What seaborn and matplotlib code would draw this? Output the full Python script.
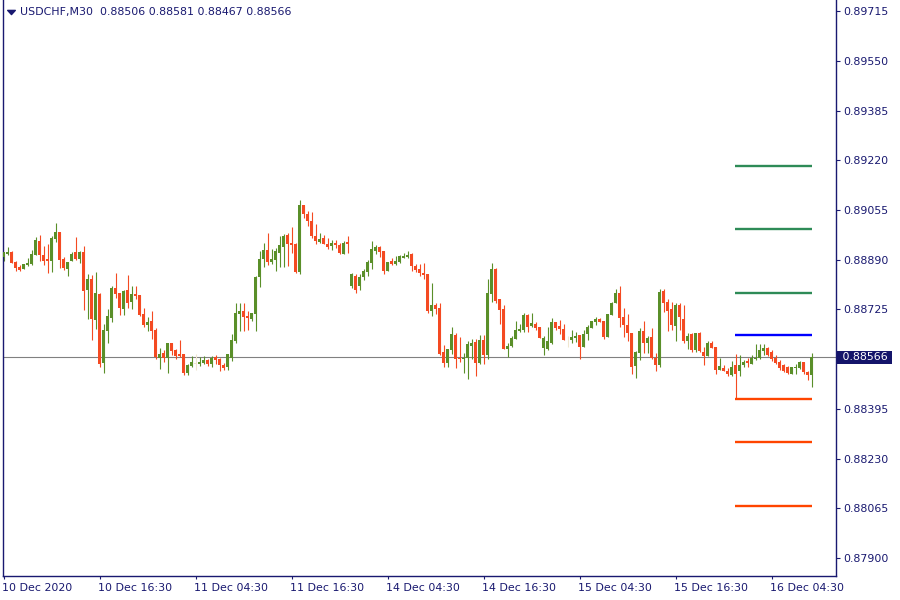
import numpy as np
import pandas as pd
import matplotlib
matplotlib.use("Agg")
import matplotlib.pyplot as plt
import matplotlib.transforms as mtransforms
from matplotlib.path import Path
import seaborn as sns

# ---------------- data ----------------
symbol = "USDCHF,M30"

opens = [
    0.88900, 0.88909, 0.88916, 0.88883, 0.88866, 0.88860, 0.88873, 0.88876, 0.88906, 0.88953,
    0.88906, 0.88893, 0.88884, 0.88960, 0.88982, 0.88893, 0.88860, 0.88884, 0.88916, 0.88893,
    0.88916, 0.88790, 0.88826, 0.88691, 0.88776, 0.88547, 0.88654, 0.88697, 0.88796, 0.88779,
    0.88727, 0.88789, 0.88749, 0.88776, 0.88773, 0.88709, 0.88673, 0.88686, 0.88656, 0.88565,
    0.88580, 0.88565, 0.88613, 0.88590, 0.88576, 0.88576, 0.88514, 0.88537, 0.88545, 0.88543,
    0.88546, 0.88556, 0.88545, 0.88566, 0.88560, 0.88540, 0.88534, 0.88565, 0.88620, 0.88709,
    0.88719, 0.88703, 0.88693, 0.88709, 0.88833, 0.88893, 0.88923, 0.88883, 0.88889, 0.88911,
    0.88933, 0.88972, 0.88947, 0.88942, 0.88850, 0.89072, 0.89042, 0.89019, 0.88969, 0.88949,
    0.88961, 0.88942, 0.88937, 0.88947, 0.88939, 0.88910, 0.88950, 0.88802, 0.88836, 0.88803,
    0.88831, 0.88850, 0.88879, 0.88919, 0.88932, 0.88919, 0.88853, 0.88886, 0.88877, 0.88882,
    0.88897, 0.88899, 0.88909, 0.88869, 0.88860, 0.88846, 0.88842, 0.88720, 0.88738, 0.88729,
    0.88583, 0.88547, 0.88590, 0.88639, 0.88564, 0.88559, 0.88563, 0.88603, 0.88617, 0.88547,
    0.88622, 0.88574, 0.88777, 0.88859, 0.88759, 0.88726, 0.88594, 0.88603, 0.88626, 0.88654,
    0.88657, 0.88706, 0.88669, 0.88676, 0.88666, 0.88597, 0.88593, 0.88614, 0.88682, 0.88669,
    0.88660, 0.88621, 0.88623, 0.88630, 0.88640, 0.88601, 0.88643, 0.88664, 0.88684, 0.88693,
    0.88686, 0.88634, 0.88708, 0.88747, 0.88779, 0.88699, 0.88673, 0.88647, 0.88536, 0.88581,
    0.88653, 0.88613, 0.88633, 0.88565, 0.88540, 0.88787, 0.88748, 0.88726, 0.88671, 0.88741,
    0.88693, 0.88620, 0.88643, 0.88590, 0.88647, 0.88583, 0.88570, 0.88612, 0.88599, 0.88525,
    0.88532, 0.88521, 0.88506, 0.88540, 0.88521, 0.88540, 0.88554, 0.88545, 0.88559, 0.88564,
    0.88587, 0.88596, 0.88583, 0.88565, 0.88550, 0.88539, 0.88534, 0.88512, 0.88531, 0.88532,
    0.88550, 0.88516, 0.88506,
]

highs = [
    0.88917, 0.88932, 0.88919, 0.88887, 0.88871, 0.88877, 0.88896, 0.88923, 0.88965, 0.88972,
    0.88936, 0.88942, 0.88967, 0.89012, 0.88982, 0.88900, 0.88883, 0.88916, 0.88966, 0.88919,
    0.88936, 0.88843, 0.88840, 0.88849, 0.88780, 0.88676, 0.88726, 0.88803, 0.88846, 0.88779,
    0.88789, 0.88839, 0.88803, 0.88803, 0.88773, 0.88729, 0.88699, 0.88719, 0.88663, 0.88596,
    0.88590, 0.88613, 0.88613, 0.88593, 0.88623, 0.88576, 0.88545, 0.88571, 0.88576, 0.88566,
    0.88570, 0.88560, 0.88570, 0.88572, 0.88562, 0.88547, 0.88576, 0.88643, 0.88746, 0.88747,
    0.88745, 0.88719, 0.88713, 0.88835, 0.88919, 0.88944, 0.88980, 0.88927, 0.88929, 0.88967,
    0.88976, 0.88980, 0.88997, 0.88947, 0.89089, 0.89072, 0.89053, 0.89049, 0.89010, 0.88980,
    0.88972, 0.88962, 0.88956, 0.88956, 0.88944, 0.88951, 0.88967, 0.88845, 0.88841, 0.88842,
    0.88858, 0.88889, 0.88952, 0.88939, 0.88937, 0.88919, 0.88882, 0.88894, 0.88902, 0.88906,
    0.88912, 0.88920, 0.88912, 0.88876, 0.88876, 0.88879, 0.88842, 0.88812, 0.88745, 0.88747,
    0.88606, 0.88595, 0.88667, 0.88645, 0.88633, 0.88579, 0.88619, 0.88626, 0.88626, 0.88639,
    0.88640, 0.88825, 0.88879, 0.88864, 0.88759, 0.88738, 0.88615, 0.88638, 0.88686, 0.88677,
    0.88712, 0.88709, 0.88712, 0.88684, 0.88666, 0.88636, 0.88667, 0.88697, 0.88682, 0.88689,
    0.88678, 0.88637, 0.88656, 0.88651, 0.88640, 0.88656, 0.88673, 0.88686, 0.88701, 0.88695,
    0.88686, 0.88710, 0.88751, 0.88792, 0.88801, 0.88728, 0.88711, 0.88647, 0.88586, 0.88663,
    0.88686, 0.88638, 0.88662, 0.88579, 0.88793, 0.88792, 0.88758, 0.88748, 0.88745, 0.88747,
    0.88741, 0.88647, 0.88647, 0.88647, 0.88651, 0.88599, 0.88619, 0.88619, 0.88599, 0.88563,
    0.88539, 0.88532, 0.88555, 0.88576, 0.88573, 0.88558, 0.88562, 0.88574, 0.88609, 0.88610,
    0.88610, 0.88599, 0.88590, 0.88572, 0.88556, 0.88543, 0.88536, 0.88534, 0.88545, 0.88554,
    0.88552, 0.88521, 0.88581,
]

lows = [
    0.88887, 0.88907, 0.88878, 0.88853, 0.88854, 0.88858, 0.88870, 0.88873, 0.88904, 0.88887,
    0.88871, 0.88847, 0.88850, 0.88949, 0.88864, 0.88856, 0.88837, 0.88884, 0.88889, 0.88880,
    0.88723, 0.88694, 0.88623, 0.88661, 0.88534, 0.88514, 0.88612, 0.88684, 0.88763, 0.88706,
    0.88706, 0.88730, 0.88727, 0.88758, 0.88703, 0.88666, 0.88654, 0.88626, 0.88561, 0.88527,
    0.88551, 0.88514, 0.88575, 0.88561, 0.88567, 0.88507, 0.88507, 0.88534, 0.88524, 0.88537,
    0.88543, 0.88536, 0.88534, 0.88543, 0.88521, 0.88523, 0.88523, 0.88553, 0.88613, 0.88654,
    0.88654, 0.88656, 0.88685, 0.88654, 0.88800, 0.88865, 0.88873, 0.88876, 0.88854, 0.88867,
    0.88867, 0.88869, 0.88911, 0.88845, 0.88841, 0.89028, 0.89002, 0.88963, 0.88942, 0.88944,
    0.88941, 0.88927, 0.88922, 0.88928, 0.88909, 0.88910, 0.88913, 0.88797, 0.88780, 0.88789,
    0.88822, 0.88836, 0.88859, 0.88910, 0.88900, 0.88843, 0.88852, 0.88871, 0.88871, 0.88880,
    0.88897, 0.88896, 0.88853, 0.88848, 0.88837, 0.88825, 0.88714, 0.88702, 0.88709, 0.88573,
    0.88534, 0.88534, 0.88576, 0.88530, 0.88550, 0.88514, 0.88494, 0.88560, 0.88504, 0.88543,
    0.88544, 0.88561, 0.88750, 0.88745, 0.88677, 0.88594, 0.88567, 0.88600, 0.88626, 0.88651,
    0.88650, 0.88650, 0.88667, 0.88658, 0.88630, 0.88574, 0.88590, 0.88609, 0.88655, 0.88644,
    0.88623, 0.88601, 0.88614, 0.88617, 0.88560, 0.88601, 0.88623, 0.88662, 0.88674, 0.88682,
    0.88628, 0.88634, 0.88706, 0.88745, 0.88667, 0.88635, 0.88621, 0.88511, 0.88497, 0.88556,
    0.88581, 0.88581, 0.88559, 0.88521, 0.88534, 0.88717, 0.88653, 0.88658, 0.88621, 0.88656,
    0.88614, 0.88592, 0.88585, 0.88583, 0.88585, 0.88542, 0.88570, 0.88597, 0.88512, 0.88525,
    0.88519, 0.88505, 0.88503, 0.88430, 0.88503, 0.88534, 0.88534, 0.88544, 0.88556, 0.88560,
    0.88573, 0.88570, 0.88554, 0.88543, 0.88525, 0.88517, 0.88512, 0.88510, 0.88512, 0.88527,
    0.88512, 0.88492, 0.88467,
]

closes = [
    0.88915, 0.88916, 0.88880, 0.88864, 0.88857, 0.88875, 0.88880, 0.88909, 0.88956, 0.88904,
    0.88886, 0.88884, 0.88962, 0.88982, 0.88890, 0.88864, 0.88883, 0.88909, 0.88893, 0.88914,
    0.88787, 0.88826, 0.88694, 0.88779, 0.88544, 0.88656, 0.88703, 0.88796, 0.88777, 0.88730,
    0.88786, 0.88747, 0.88776, 0.88769, 0.88705, 0.88673, 0.88683, 0.88654, 0.88566, 0.88576,
    0.88564, 0.88613, 0.88587, 0.88571, 0.88571, 0.88514, 0.88540, 0.88550, 0.88545, 0.88550,
    0.88556, 0.88543, 0.88564, 0.88556, 0.88540, 0.88531, 0.88576, 0.88623, 0.88713, 0.88719,
    0.88700, 0.88697, 0.88713, 0.88833, 0.88893, 0.88923, 0.88883, 0.88893, 0.88919, 0.88939,
    0.88969, 0.88942, 0.88938, 0.88850, 0.89073, 0.89040, 0.89017, 0.88969, 0.88952, 0.88959,
    0.88942, 0.88933, 0.88947, 0.88938, 0.88911, 0.88947, 0.88941, 0.88842, 0.88790, 0.88831,
    0.88852, 0.88882, 0.88926, 0.88932, 0.88916, 0.88853, 0.88882, 0.88877, 0.88887, 0.88902,
    0.88902, 0.88906, 0.88869, 0.88856, 0.88847, 0.88839, 0.88720, 0.88738, 0.88726, 0.88578,
    0.88547, 0.88593, 0.88643, 0.88560, 0.88560, 0.88564, 0.88609, 0.88615, 0.88547, 0.88622,
    0.88574, 0.88779, 0.88859, 0.88753, 0.88722, 0.88594, 0.88603, 0.88629, 0.88656, 0.88660,
    0.88706, 0.88665, 0.88679, 0.88664, 0.88630, 0.88629, 0.88619, 0.88682, 0.88664, 0.88660,
    0.88623, 0.88621, 0.88633, 0.88637, 0.88601, 0.88643, 0.88667, 0.88686, 0.88693, 0.88684,
    0.88633, 0.88710, 0.88747, 0.88779, 0.88697, 0.88673, 0.88645, 0.88534, 0.88584, 0.88653,
    0.88612, 0.88630, 0.88562, 0.88540, 0.88783, 0.88747, 0.88719, 0.88673, 0.88741, 0.88701,
    0.88620, 0.88638, 0.88590, 0.88645, 0.88587, 0.88570, 0.88612, 0.88597, 0.88523, 0.88536,
    0.88519, 0.88510, 0.88533, 0.88511, 0.88540, 0.88552, 0.88547, 0.88562, 0.88565, 0.88590,
    0.88596, 0.88573, 0.88561, 0.88547, 0.88532, 0.88521, 0.88514, 0.88534, 0.88533, 0.88550,
    0.88516, 0.88506, 0.88566,
]

time_labels = ["10 Dec 2020", "10 Dec 16:30", "11 Dec 04:30", "11 Dec 16:30",
               "14 Dec 04:30", "14 Dec 16:30", "15 Dec 04:30", "15 Dec 16:30",
               "16 Dec 04:30"]
time_label_bars = [0, 24, 48, 72, 96, 120, 144, 168, 192]

price_ticks = [0.87900, 0.88065, 0.88230, 0.88395, 0.88725, 0.88890,
               0.89055, 0.89220, 0.89385, 0.89550, 0.89715]

# pivot levels for the current day (R3, R2, R1, P, S1, S2, S3)
level_values = [0.89202, 0.88992, 0.88778, 0.88639, 0.88427, 0.88286, 0.88073]
level_kinds = ["R", "R", "R", "P", "S", "S", "S"]
level_start_bar = 183  # 16 Dec 00:00

# ---------------- style ----------------
sns.set_theme(style="white")
plt.rcParams["font.family"] = ["DejaVu Sans"]

NAVY = "#191970"
BULL = "#5a8f29"
BEAR = "#f44a22"
DOJI = "#efe6cf"
level_colors = {"R": "#2e8b57", "P": "#0000ff", "S": "#ff4500"}

df = pd.DataFrame({"open": opens, "high": highs, "low": lows, "close": closes})
df["bar"] = np.arange(len(df))
df["color"] = np.where(df["close"] > df["open"], BULL,
                       np.where(df["close"] < df["open"], BEAR, DOJI))

W, H = 900, 600
fig = plt.figure(figsize=(W / 100, H / 100), dpi=100, facecolor="white")
ax = fig.add_axes([2.5 / W, (H - 576) / H, (836 - 2.5) / W, 576 / H])
ax.set_facecolor("white")

# current price line
last_close = closes[-1]
ax.axhline(last_close, color="#808080", lw=0.8, zorder=1)

# wicks
ax.vlines(df["bar"], df["low"], df["high"], colors=df["color"], lw=0.8, zorder=2)
# bodies
body_low = np.minimum(df["open"], df["close"])
body_h = np.abs(df["close"] - df["open"])
body_h = np.where(body_h < 0.00001, 0.000004, body_h)
ax.bar(df["bar"], body_h, bottom=body_low, width=0.74, color=df["color"],
       linewidth=0, zorder=3)

# pivot levels
n = len(df)
for v, k in zip(level_values, level_kinds):
    ax.hlines(v, level_start_bar - 0.25, n - 1 + 0.15, colors=level_colors[k],
              lw=1.7, zorder=4)

# axes ranges (pixel-calibrated)
ax.set_xlim(-0.3, 208.1)
ax.set_ylim(0.87840, 0.89752)

# spines
for s in ["left", "bottom", "right"]:
    ax.spines[s].set_visible(True)
    ax.spines[s].set_color(NAVY)
    ax.spines[s].set_linewidth(1.0)
ax.spines["top"].set_visible(False)

# y ticks on the right
ax.yaxis.tick_right()
ax.set_yticks(price_ticks)
ax.set_yticklabels([f"{v:.5f}" for v in price_ticks])
ax.tick_params(axis="y", which="both", direction="out", length=3, width=0.8,
               color=NAVY, labelcolor=NAVY, labelsize=7.9, pad=2.2, left=False,
               right=True)

# x ticks
ax.set_xticks(time_label_bars)
ax.set_xticklabels(time_labels)
ax.tick_params(axis="x", which="both", direction="out", length=2.2, width=0.8,
               color=NAVY, labelcolor=NAVY, labelsize=7.9, pad=3.0, bottom=True)
for lab in ax.get_xticklabels():
    lab.set_horizontalalignment("left")
    lab.set_x(lab.get_position()[0])
offset_lbl = mtransforms.ScaledTranslation(-1.5 / 100, 0, fig.dpi_scale_trans)
for lab in ax.get_xticklabels():
    lab.set_transform(lab.get_transform() + offset_lbl)

ax.grid(False)

# header text
o, h, l, c = opens[-1], highs[-1], lows[-1], closes[-1]
header = f"{symbol}  {o:.5f} {h:.5f} {l:.5f} {c:.5f}"
fig.text(20.5 / W, 1 - 12 / H, header, color=NAVY, fontsize=7.9,
         ha="left", va="center")
tri = Path([(-1.0, 0.55), (1.0, 0.55), (0.0, -0.55), (-1.0, 0.55)],
           [Path.MOVETO, Path.LINETO, Path.LINETO, Path.CLOSEPOLY])
fig.lines.append(plt.Line2D([10.7 / W], [1 - 12 / H], transform=fig.transFigure,
                            marker=tri, markersize=5.5, color=NAVY, linestyle="none"))

# current price box
blend = mtransforms.blended_transform_factory(ax.transAxes, ax.transData)
box_tr = mtransforms.offset_copy(blend, fig=fig, x=2.6, y=0, units="dots")
ax.text(1.0, last_close, f" {last_close:.5f} ", transform=box_tr, color="white",
        fontsize=7.9, ha="left", va="center", clip_on=False, zorder=10,
        bbox=dict(boxstyle="square,pad=0.12", facecolor="#14146a", edgecolor="none"))

fig.savefig("out.png", dpi=100, facecolor="white")
